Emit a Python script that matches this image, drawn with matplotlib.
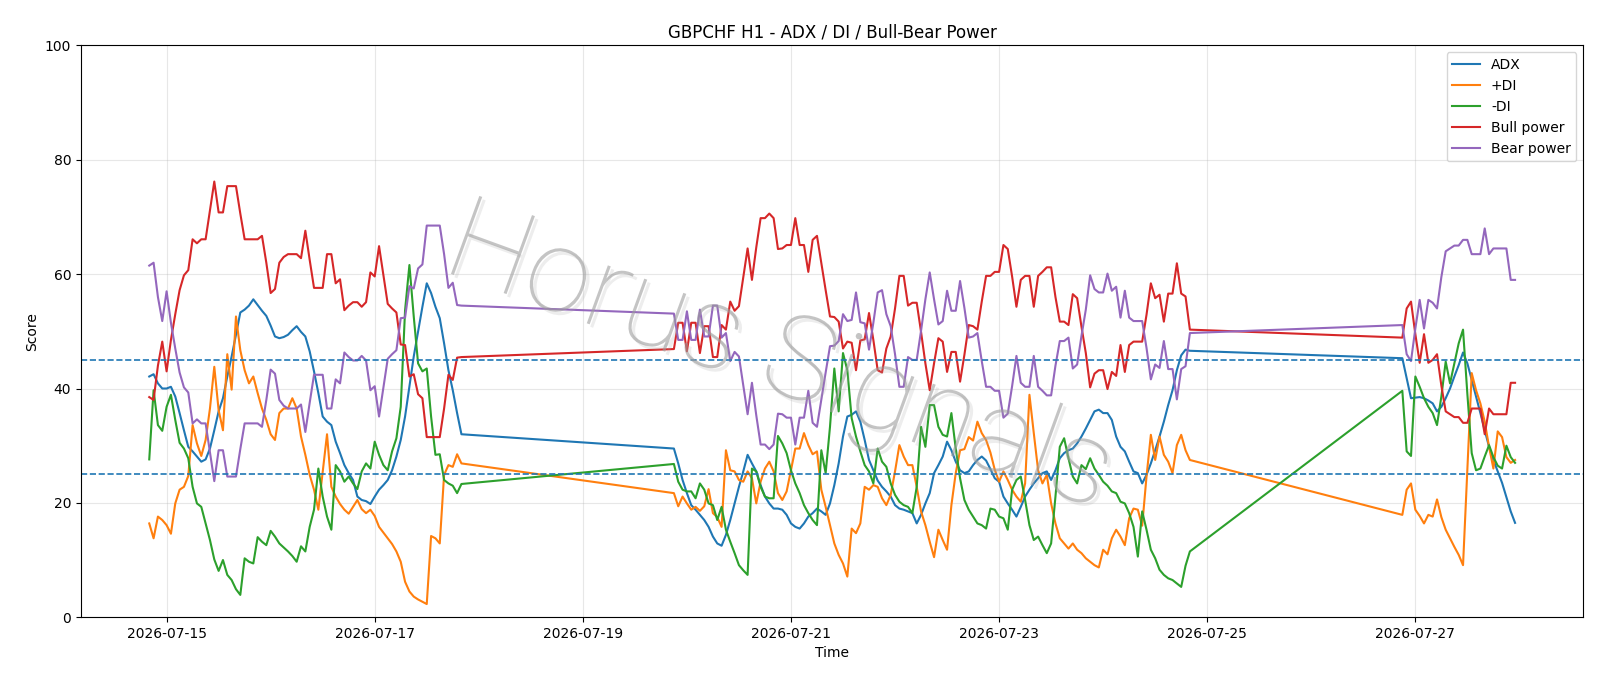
import numpy as np
import pandas as pd
import matplotlib
matplotlib.use("Agg")
import matplotlib.pyplot as plt
import matplotlib.dates as mdates
import matplotlib.patheffects as pe
from matplotlib import font_manager as fm

# ---- time axis: hourly bars in three trading blocks ----
seg_starts = ["2026-07-14 20:00", "2026-07-19 21:00", "2026-07-26 21:00"]
seg_lengths = [73, 120, 27]

# ---- series values ----
adx = [
    # block 1
    42.1, 42.5, 40.9, 40.0, 40.0, 40.3, 38.6, 35.7, 32.7, 29.8,
    29.0, 28.1, 27.2, 27.6, 29.5, 32.7, 36.0, 38.3, 42.1, 45.6,
    49.4, 53.3, 53.8, 54.5, 55.6, 54.6, 53.6, 52.7, 51.0, 49.1,
    48.8, 49.0, 49.4, 50.2, 50.9, 49.9, 49.1, 46.5, 43.0, 39.2,
    35.1, 34.2, 33.6, 30.7, 28.7, 26.6, 25.2, 24.0, 21.1, 20.5,
    20.3, 19.8, 21.1, 22.3, 23.1, 24.0, 25.7, 28.1, 31.0, 35.1,
    40.3, 45.6, 50.0, 54.3, 58.4, 56.7, 54.3, 52.3, 47.9, 43.2,
    39.7, 35.7, 32.0,
    # block 2
    29.5, 26.9, 24.0, 21.7, 19.6, 18.8, 17.9, 17.0, 15.8, 14.1,
    12.9, 12.5, 14.4, 17.0, 19.9, 22.8, 25.5, 28.4, 26.9, 25.5,
    23.1, 21.1, 19.9, 19.0, 19.0, 18.8, 17.9, 16.4, 15.8, 15.5,
    16.4, 17.6, 18.2, 19.0, 18.5, 17.9, 19.9, 23.1, 26.9, 31.6,
    35.1, 35.4, 36.0, 34.2, 31.0, 27.5, 25.7, 23.9, 22.8, 22.0,
    21.1, 19.6, 19.0, 18.8, 18.5, 18.2, 16.4, 17.9, 19.9, 21.7,
    25.2, 26.6, 28.1, 30.7, 29.2, 27.2, 25.7, 25.2, 25.5, 26.6,
    27.5, 28.1, 27.4, 25.9, 24.3, 23.7, 21.1, 19.9, 18.8, 17.6,
    19.3, 21.1, 22.3, 23.4, 24.3, 25.2, 25.5, 24.0, 25.7, 27.8,
    28.7, 29.2, 29.5, 30.4, 31.6, 33.0, 34.5, 36.0, 36.3, 35.7,
    35.7, 34.5, 31.6, 29.8, 29.0, 27.2, 25.5, 25.2, 23.4, 24.9,
    26.9, 29.2, 31.6, 34.2, 37.1, 39.7, 43.2, 45.8, 46.8, 46.6,
    # block 3
    45.3, 41.8, 38.3, 38.4, 38.5, 38.3, 37.9, 37.4, 36.0, 36.8,
    38.3, 40.0, 42.1, 44.1, 46.3, 44.4, 41.5, 38.6, 35.7, 32.7,
    29.8, 27.5, 25.5, 23.5, 21.0, 18.5, 16.5,
]

plus_di = [
    # block 1
    16.4, 13.8, 17.6, 17.0, 16.1, 14.6, 19.9, 22.3, 22.8, 24.7,
    33.6, 30.4, 28.2, 31.0, 36.5, 43.8, 36.2, 32.7, 46.0, 39.8,
    52.6, 46.7, 43.2, 40.9, 42.1, 39.2, 36.5, 34.5, 32.0, 31.0,
    35.7, 36.5, 36.5, 38.3, 36.5, 31.6, 28.4, 24.9, 22.3, 18.8,
    25.4, 32.0, 22.8, 21.1, 19.8, 18.8, 18.1, 19.3, 20.5, 18.9,
    18.2, 18.8, 17.7, 15.8, 14.8, 13.8, 12.8, 11.5, 9.7, 6.2,
    4.5, 3.6, 3.1, 2.7, 2.3, 14.2, 13.8, 12.9, 24.9, 26.6,
    26.3, 28.5, 26.9,
    # block 2
    21.7, 19.4, 21.1, 19.9, 18.8, 19.3, 18.6, 19.4, 22.4, 18.2,
    17.5, 15.8, 29.2, 25.7, 25.5, 24.0, 23.7, 25.5, 24.3, 19.9,
    23.7, 26.0, 27.2, 25.5, 21.7, 20.5, 22.0, 25.7, 29.5, 29.5,
    32.2, 30.1, 28.5, 29.0, 22.3, 19.3, 16.1, 12.9, 10.9, 9.4,
    7.1, 15.5, 14.7, 16.4, 22.8, 22.3, 23.1, 22.8, 20.8, 19.6,
    21.4, 25.5, 30.1, 28.1, 26.6, 26.6, 22.8, 18.5, 16.1, 13.2,
    10.5, 15.3, 13.5, 11.8, 19.6, 25.2, 29.2, 29.4, 31.5, 30.9,
    34.2, 32.2, 31.0, 28.8, 25.8, 23.7, 25.5, 24.0, 22.3, 21.1,
    20.2, 23.4, 38.9, 32.2, 25.7, 23.4, 24.9, 19.9, 16.4, 13.8,
    12.9, 12.0, 12.9, 11.8, 11.2, 10.3, 9.7, 9.1, 8.7, 11.8,
    11.0, 13.8, 15.3, 14.1, 12.6, 17.3, 19.0, 18.8, 16.0, 24.6,
    31.9, 27.5, 31.6, 28.4, 27.2, 25.2, 30.1, 31.9, 29.2, 27.5,
    # block 3
    17.9, 22.3, 23.4, 18.8, 17.7, 16.4, 17.9, 17.6, 20.6, 17.5,
    15.3, 13.8, 12.3, 10.9, 9.1, 26.0, 42.7, 39.7, 37.4, 34.2,
    29.8, 26.0, 32.5, 31.5, 28.0, 27.0, 27.5,
]

minus_di = [
    # block 1
    27.6, 39.7, 33.6, 32.6, 36.8, 38.9, 34.5, 30.5, 29.5, 27.8,
    22.8, 19.9, 19.3, 16.4, 13.5, 10.1, 8.1, 10.0, 7.4, 6.5,
    4.9, 3.9, 10.3, 9.7, 9.4, 14.0, 13.2, 12.6, 15.1, 14.1,
    12.9, 12.2, 11.5, 10.7, 9.7, 12.4, 11.5, 15.8, 18.8, 26.0,
    21.1, 17.6, 15.3, 26.6, 25.5, 23.7, 24.6, 23.4, 22.4, 25.5,
    26.9, 26.0, 30.7, 28.4, 26.6, 25.7, 29.0, 31.3, 36.8, 53.7,
    61.6, 52.6, 44.4, 43.0, 43.5, 35.1, 28.4, 28.5, 24.0, 23.4,
    23.0, 21.7, 23.3,
    # block 2
    26.8, 23.7, 22.3, 22.0, 22.0, 20.8, 23.4, 22.3, 19.9, 19.6,
    17.0, 19.3, 15.3, 13.2, 11.2, 9.1, 8.2, 7.4, 26.0, 25.5,
    22.8, 21.1, 20.8, 20.8, 31.7, 30.4, 28.7, 25.7, 23.4, 21.7,
    19.6, 18.2, 17.0, 16.1, 29.2, 25.2, 33.3, 43.5, 36.0, 46.2,
    43.2, 34.8, 31.6, 29.0, 26.6, 25.5, 23.4, 29.5, 27.2, 26.3,
    23.4, 21.4, 20.2, 19.6, 19.3, 18.2, 22.8, 33.3, 29.8, 37.1,
    37.1, 33.3, 31.9, 31.6, 35.7, 29.5, 24.3, 20.5, 18.8, 17.6,
    16.4, 16.1, 15.5, 19.0, 18.8, 17.6, 17.3, 15.3, 22.3, 24.0,
    24.6, 20.5, 16.1, 13.5, 14.1, 12.6, 11.2, 12.9, 21.1, 29.8,
    31.3, 27.8, 24.6, 23.4, 26.6, 25.9, 27.8, 26.0, 24.9, 23.7,
    23.0, 22.0, 21.7, 20.2, 19.9, 18.2, 15.8, 10.6, 18.5, 15.3,
    11.8, 10.3, 8.3, 7.4, 6.8, 6.5, 5.9, 5.3, 9.0, 11.5,
    # block 3
    39.6, 29.0, 28.2, 42.1, 40.3, 38.3, 36.8, 35.7, 33.6, 38.6,
    44.7, 40.9, 44.4, 47.9, 50.3, 39.0, 28.7, 25.7, 26.0, 28.1,
    30.1, 28.0, 26.5, 26.0, 30.0, 28.0, 27.0,
]

bull_power = [
    # block 1
    38.5, 38.0, 44.0, 48.2, 43.0, 48.5, 53.0, 57.2, 59.8, 60.7,
    66.1, 65.4, 66.1, 66.1, 71.2, 76.2, 70.8, 70.8, 75.4, 75.4,
    75.4, 70.6, 66.1, 66.1, 66.1, 66.1, 66.7, 62.0, 56.7, 57.4,
    62.0, 63.0, 63.5, 63.5, 63.5, 62.8, 67.6, 62.5, 57.6, 57.6,
    57.6, 63.5, 63.5, 58.4, 59.1, 53.7, 54.5, 55.1, 55.1, 54.3,
    55.1, 60.3, 59.6, 64.9, 59.9, 54.8, 54.0, 53.3, 47.7, 47.6,
    42.1, 42.5, 39.0, 38.3, 31.5, 31.5, 31.5, 31.5, 36.5, 42.4,
    41.5, 45.4, 45.5,
    # block 2
    46.9, 51.5, 51.5, 46.5, 51.5, 51.5, 46.2, 50.9, 50.9, 45.5,
    45.5, 51.1, 50.3, 55.2, 53.6, 54.4, 59.5, 64.5, 59.0, 64.7,
    69.8, 69.8, 70.6, 69.8, 64.4, 64.5, 65.1, 65.1, 69.8, 65.1,
    65.1, 60.4, 66.0, 66.7, 61.9, 57.2, 52.6, 52.5, 51.7, 47.0,
    48.2, 48.0, 43.2, 48.4, 48.6, 53.2, 48.5, 43.2, 42.8, 47.0,
    49.1, 54.0, 59.7, 59.7, 54.5, 55.0, 55.0, 49.9, 44.4, 39.7,
    44.4, 48.8, 48.2, 42.9, 46.4, 46.4, 41.2, 45.9, 51.1, 50.9,
    50.3, 55.2, 59.7, 59.7, 60.4, 60.4, 65.1, 64.4, 59.6, 54.3,
    59.0, 59.7, 59.7, 54.3, 59.7, 60.4, 61.2, 61.2, 56.0, 51.7,
    51.7, 51.1, 56.5, 55.8, 50.8, 46.2, 40.2, 42.6, 43.2, 43.2,
    39.9, 42.9, 42.2, 47.6, 42.9, 47.6, 48.2, 48.2, 48.2, 52.9,
    58.4, 55.8, 56.4, 51.7, 56.6, 56.6, 61.9, 56.6, 56.1, 50.3,
    # block 3
    48.9, 54.0, 55.2, 49.5, 44.5, 49.5, 44.5, 45.0, 46.0, 40.5,
    36.0, 35.5, 35.0, 35.0, 34.0, 34.0, 36.5, 36.5, 36.5, 32.0,
    36.5, 35.5, 35.5, 35.5, 35.5, 41.0, 41.0,
]

bear_power = [
    # block 1
    61.5, 62.0, 56.0, 51.8, 57.0, 51.5, 47.0, 42.8, 40.2, 39.3,
    33.9, 34.6, 33.9, 33.9, 28.8, 23.8, 29.2, 29.2, 24.6, 24.6,
    24.6, 29.4, 33.9, 33.9, 33.9, 33.9, 33.3, 38.0, 43.3, 42.6,
    38.0, 37.0, 36.5, 36.5, 36.5, 37.2, 32.4, 37.5, 42.4, 42.4,
    42.4, 36.5, 36.5, 41.6, 40.9, 46.3, 45.5, 44.9, 44.9, 45.7,
    44.9, 39.7, 40.4, 35.1, 40.1, 45.2, 46.0, 46.7, 52.3, 52.4,
    57.9, 57.5, 61.0, 61.7, 68.5, 68.5, 68.5, 68.5, 63.5, 57.6,
    58.5, 54.6, 54.5,
    # block 2
    53.1, 48.5, 48.5, 53.5, 48.5, 48.5, 53.8, 49.1, 49.1, 54.5,
    54.5, 48.9, 49.7, 44.8, 46.4, 45.6, 40.5, 35.5, 41.0, 35.3,
    30.2, 30.2, 29.4, 30.2, 35.6, 35.5, 34.9, 34.9, 30.2, 34.9,
    34.9, 39.6, 34.0, 33.3, 38.1, 42.8, 47.4, 47.5, 48.3, 53.0,
    51.8, 52.0, 56.8, 51.6, 51.4, 46.8, 51.5, 56.8, 57.2, 53.0,
    50.9, 46.0, 40.3, 40.3, 45.5, 45.0, 45.0, 50.1, 55.6, 60.3,
    55.6, 51.2, 51.8, 57.1, 53.6, 53.6, 58.8, 54.1, 48.9, 49.1,
    49.7, 44.8, 40.3, 40.3, 39.6, 39.6, 34.9, 35.6, 40.4, 45.7,
    41.0, 40.3, 40.3, 45.7, 40.3, 39.6, 38.8, 38.8, 44.0, 48.3,
    48.3, 48.9, 43.5, 44.2, 49.2, 53.8, 59.8, 57.4, 56.8, 56.8,
    60.1, 57.1, 57.8, 52.4, 57.1, 52.4, 51.8, 51.8, 51.8, 47.1,
    41.6, 44.2, 43.6, 48.3, 43.4, 43.4, 38.1, 43.4, 43.9, 49.7,
    # block 3
    51.1, 46.0, 44.8, 50.5, 55.5, 50.5, 55.5, 55.0, 54.0, 59.5,
    64.0, 64.5, 65.0, 65.0, 66.0, 66.0, 63.5, 63.5, 63.5, 68.0,
    63.5, 64.5, 64.5, 64.5, 64.5, 59.0, 59.0,
]

series_labels = ["ADX", "+DI", "-DI", "Bull power", "Bear power"]
threshold_levels = [25, 45]
tick_dates = ["2026-07-15", "2026-07-17", "2026-07-19", "2026-07-21",
              "2026-07-23", "2026-07-25", "2026-07-27"]
watermark_text = "Horus Signals"

# ---- build time index ----
times = pd.DatetimeIndex(np.concatenate([
    pd.date_range(s, periods=n, freq="h").values for s, n in zip(seg_starts, seg_lengths)
]))

fig = plt.figure(figsize=(16, 6.86), dpi=100)
ax = fig.add_axes([0.0506, 0.1003, 0.9390, 0.8334])

colors = ["C0", "C1", "C2", "C3", "C4"]
for vals, lab, c in zip([adx, plus_di, minus_di, bull_power, bear_power], series_labels, colors):
    ax.plot(times, vals, color=c, linewidth=1.5, label=lab)

for lv in threshold_levels:
    ax.axhline(lv, color="C0", linestyle="--", linewidth=1.2)

ax.set_ylim(0, 100)
ax.set_xticks(pd.to_datetime(tick_dates))
ax.xaxis.set_major_formatter(mdates.DateFormatter("%Y-%m-%d"))
ax.grid(True, alpha=0.3)
ax.set_title("GBPCHF H1 - ADX / DI / Bull-Bear Power", fontsize=12)
ax.set_xlabel("Time")
ax.set_ylabel("Score")
ax.legend(loc="upper right")

# ---- watermark: thin light-gray lettering with a soft shadow ----
_wmap = {"thin": 100, "hairline": 100, "ultralight": 200, "extralight": 200,
         "extra light": 200, "light": 300, "normal": 400, "regular": 400}


def _wnum(w):
    if isinstance(w, (int, float)):
        return int(w)
    return _wmap.get(str(w).lower(), 400)


thin_font = None
for fam in ["Roboto", "Lato", "Inter", "Open Sans", "Noto Sans", "DejaVu Sans"]:
    cands = [f for f in fm.fontManager.ttflist
             if f.name == fam and f.style == "normal" and _wnum(f.weight) <= 300]
    if cands:
        cands.sort(key=lambda f: _wnum(f.weight))
        thin_font = cands[0]
        break

wm_kw = dict(transform=ax.transAxes, rotation=-20, ha="center", va="center",
             zorder=6)
if thin_font is not None:
    fp = fm.FontProperties(fname=thin_font.fname, size=84)
    ax.text(0.465, 0.45, watermark_text, fontproperties=fp,
            color=(0.62, 0.62, 0.62, 0.6),
            path_effects=[pe.SimplePatchShadow(offset=(2.5, -2.5),
                                               shadow_rgbFace=(0.65, 0.65, 0.65), alpha=0.2),
                          pe.Normal()], **wm_kw)
else:
    ax.text(0.465, 0.45, watermark_text, fontsize=76, color=(1, 1, 1, 0),
            path_effects=[pe.SimplePatchShadow(offset=(2.5, -2.5),
                                               shadow_rgbFace=(0.65, 0.65, 0.65), alpha=0.1),
                          pe.Stroke(linewidth=1.0, foreground=(0.65, 0.65, 0.65, 0.6))],
            **wm_kw)

fig.savefig("out.png", dpi=100)
